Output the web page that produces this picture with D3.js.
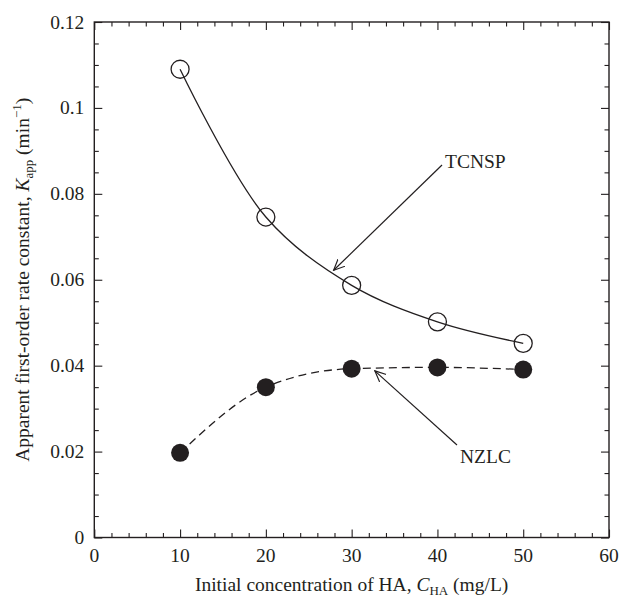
<!DOCTYPE html>
<html>
<head>
<meta charset="utf-8">
<script src="https://cdn.jsdelivr.net/npm/d3@7"></script>
<style>
  body { margin: 0; background: #fff; }
</style>
</head>
<body>
<div id="chart"></div>
<script>
// concentrations of HA (mg/L)
const concentrations = [10, 20, 30, 40, 50];
// apparent rate constants (min^-1)
const tcnspValues = [0.1090, 0.0746, 0.0587, 0.0502, 0.0452];
const nzlcValues = [0.0197, 0.0350, 0.0393, 0.0396, 0.0391];

const xTicks = [0, 10, 20, 30, 40, 50, 60];
const yTicks = [0, 0.02, 0.04, 0.06, 0.08, 0.1, 0.12];
const yTickLabels = ['0', '0.02', '0.04', '0.06', '0.08', '0.1', '0.12'];

const width = 620;
const height = 597;
const margin = {top: 22, right: 11, bottom: 59.5, left: 94.3};
const ink = '#231f20';
const serif = "'Liberation Serif', 'DejaVu Serif', serif";
const fontSize = 19.5;

let svg = d3.select('#chart')
  .append('svg')
  .attr('width', width)
  .attr('height', height)
  .attr('font-family', serif);

let x = d3.scaleLinear().domain([0, 60]).range([margin.left, width - margin.right]);
let y = d3.scaleLinear().domain([0, 0.12]).range([height - margin.bottom, margin.top]);

// minor tick positions
let xMinor = d3.range(0, 60.01, 2);
let yMinor = d3.range(0, 0.12001, 0.005);

function isMajorX(v) { return Math.abs(v / 10 - Math.round(v / 10)) < 1e-6; }
function isMajorY(v) { return Math.abs(v / 0.02 - Math.round(v / 0.02)) < 1e-6; }

// inward ticks on all four sides, drawn with d3 axes
function tickLen(major) { return major ? 8 : 4.5; }

let bottomAxis = svg.append('g')
  .attr('transform', 'translate(0,' + y(0) + ')')
  .call(d3.axisTop(x).tickValues(xMinor).tickSize(0).tickFormat(''));
bottomAxis.selectAll('.tick line')
  .attr('y2', function(d) { return -tickLen(isMajorX(d)); });

let topAxis = svg.append('g')
  .attr('transform', 'translate(0,' + y(0.12) + ')')
  .call(d3.axisBottom(x).tickValues(xMinor).tickSize(0).tickFormat(''));
topAxis.selectAll('.tick line')
  .attr('y2', function(d) { return tickLen(isMajorX(d)); });

let leftAxis = svg.append('g')
  .attr('transform', 'translate(' + x(0) + ',0)')
  .call(d3.axisRight(y).tickValues(yMinor).tickSize(0).tickFormat(''));
leftAxis.selectAll('.tick line')
  .attr('x2', function(d) { return tickLen(isMajorY(d)); });

let rightAxis = svg.append('g')
  .attr('transform', 'translate(' + x(60) + ',0)')
  .call(d3.axisLeft(y).tickValues(yMinor).tickSize(0).tickFormat(''));
rightAxis.selectAll('.tick line')
  .attr('x2', function(d) { return -tickLen(isMajorY(d)); });

svg.selectAll('.domain').remove();
svg.selectAll('.tick line').attr('stroke', ink).attr('stroke-width', 1.1);

// frame
svg.append('rect')
  .attr('x', x(0))
  .attr('y', y(0.12))
  .attr('width', x(60) - x(0))
  .attr('height', y(0) - y(0.12))
  .attr('fill', 'none')
  .attr('stroke', ink)
  .attr('stroke-width', 1.4);

// tick labels
svg.append('g').selectAll('text')
  .data(xTicks)
  .enter().append('text')
  .attr('x', function(d) { return x(d); })
  .attr('y', y(0) + 24)
  .attr('text-anchor', 'middle')
  .attr('fill', ink)
  .style('font-size', fontSize + 'px')
  .text(function(d) { return d; });

svg.append('g').selectAll('text')
  .data(yTicks)
  .enter().append('text')
  .attr('x', x(0) - 10)
  .attr('y', function(d) { return y(d) + 6.5; })
  .attr('text-anchor', 'end')
  .attr('fill', ink)
  .style('font-size', fontSize + 'px')
  .text(function(d, i) { return yTickLabels[i]; });

// axis titles
let xTitle = svg.append('text')
  .attr('x', (x(0) + x(60)) / 2)
  .attr('y', height - 6)
  .attr('text-anchor', 'middle')
  .attr('fill', ink)
  .style('font-size', fontSize + 'px');
xTitle.append('tspan').text('Initial concentration of HA, ');
xTitle.append('tspan').style('font-style', 'italic').text('C');
xTitle.append('tspan').attr('dy', 4).style('font-size', '13px').text('HA');
xTitle.append('tspan').attr('dy', -4).text(' (mg/L)');

let yTitle = svg.append('text')
  .attr('transform', 'translate(29,' + (y(0) + y(0.12)) / 2 + ') rotate(-90)')
  .attr('text-anchor', 'middle')
  .attr('fill', ink)
  .style('font-size', fontSize + 'px');
yTitle.append('tspan').text('Apparent first-order rate constant, ');
yTitle.append('tspan').style('font-style', 'italic').text('K');
yTitle.append('tspan').attr('dy', 4).style('font-size', '13px').text('app');
yTitle.append('tspan').attr('dy', -4).text(' (min');
yTitle.append('tspan').attr('dy', -8).style('font-size', '13px').text('\u22121');
yTitle.append('tspan').attr('dy', 8).text(')');

// fitted curves
let tcnsp = concentrations.map(function(c, i) { return {x: c, y: tcnspValues[i]}; });
let nzlc = concentrations.map(function(c, i) { return {x: c, y: nzlcValues[i]}; });

let line = d3.line()
  .x(function(d) { return x(d.x); })
  .y(function(d) { return y(d.y); })
  .curve(d3.curveCatmullRom);

svg.append('path')
  .datum(tcnsp)
  .attr('d', line)
  .attr('fill', 'none')
  .attr('stroke', ink)
  .attr('stroke-width', 1.3);

svg.append('path')
  .datum(nzlc)
  .attr('d', line.curve(d3.curveMonotoneX))
  .attr('fill', 'none')
  .attr('stroke', ink)
  .attr('stroke-width', 1.3)
  .attr('stroke-dasharray', '8,5');

// markers
svg.append('g').selectAll('circle')
  .data(tcnsp)
  .enter().append('circle')
  .attr('cx', function(d) { return x(d.x); })
  .attr('cy', function(d) { return y(d.y); })
  .attr('r', 9)
  .attr('fill', 'none')
  .attr('stroke', ink)
  .attr('stroke-width', 1.3);

svg.append('g').selectAll('circle')
  .data(nzlc)
  .enter().append('circle')
  .attr('cx', function(d) { return x(d.x); })
  .attr('cy', function(d) { return y(d.y); })
  .attr('r', 9)
  .attr('fill', ink);

// annotation arrows (open heads)
svg.append('defs').append('marker')
  .attr('id', 'arrow')
  .attr('viewBox', '0 -6 12 12')
  .attr('refX', 11)
  .attr('markerWidth', 12)
  .attr('markerHeight', 12)
  .attr('markerUnits', 'userSpaceOnUse')
  .attr('orient', 'auto')
  .append('path')
  .attr('d', 'M0,-5L11,0L0,5')
  .attr('fill', 'none')
  .attr('stroke', ink)
  .attr('stroke-width', 1.2);

svg.append('line')
  .attr('x1', 442).attr('y1', 165)
  .attr('x2', x(27.9)).attr('y2', y(0.0622))
  .attr('stroke', ink)
  .attr('stroke-width', 1.2)
  .attr('marker-end', 'url(#arrow)');

svg.append('text')
  .attr('x', 445)
  .attr('y', 168)
  .attr('fill', ink)
  .style('font-size', fontSize + 'px')
  .text('TCNSP');

svg.append('line')
  .attr('x1', 457).attr('y1', 445)
  .attr('x2', x(32.7)).attr('y2', y(0.0388))
  .attr('stroke', ink)
  .attr('stroke-width', 1.2)
  .attr('marker-end', 'url(#arrow)');

svg.append('text')
  .attr('x', 460)
  .attr('y', 463)
  .attr('fill', ink)
  .style('font-size', fontSize + 'px')
  .text('NZLC');
</script>
</body>
</html>
